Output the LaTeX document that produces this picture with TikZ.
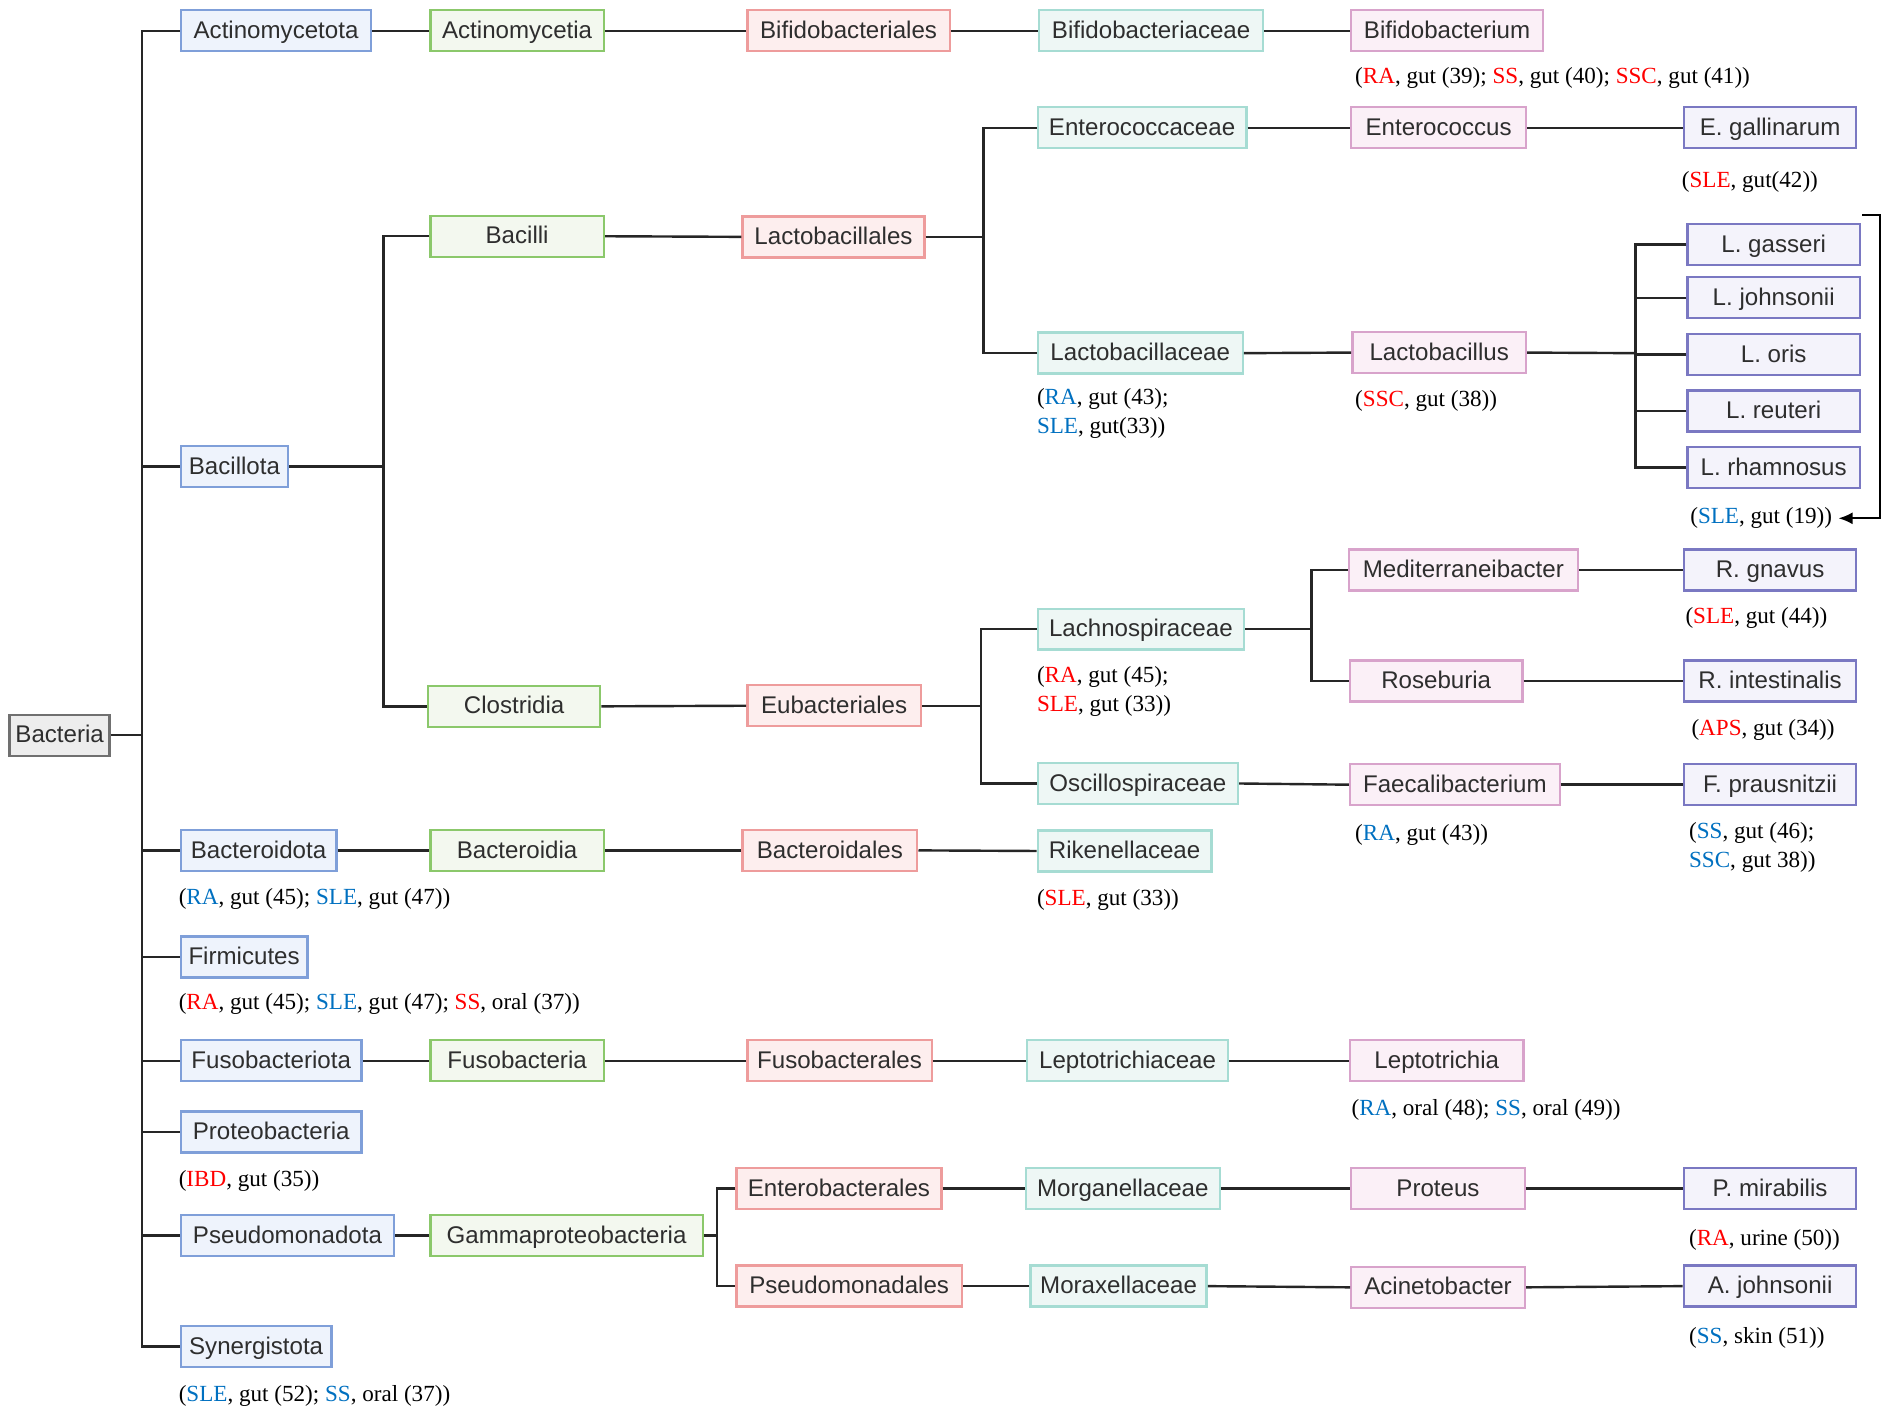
\documentclass[tikz,border=0pt]{standalone}
\usepackage{fontspec}
\setmainfont{Liberation Serif}
\setsansfont{Liberation Sans}
\usetikzlibrary{arrows.meta}
\definecolor{phyD}{HTML}{7F9FD9}\definecolor{phyF}{HTML}{EEF3FC}
\definecolor{claD}{HTML}{8BC86B}\definecolor{claF}{HTML}{F3F8EF}
\definecolor{ordD}{HTML}{EE9C9C}\definecolor{ordF}{HTML}{FDEEEE}
\definecolor{famD}{HTML}{A6DCD3}\definecolor{famF}{HTML}{EEF7F5}
\definecolor{genD}{HTML}{D8A3CB}\definecolor{genF}{HTML}{FBF0F7}
\definecolor{spD}{HTML}{7A78C2}\definecolor{spF}{HTML}{F4F3FB}
\definecolor{bacD}{HTML}{707070}\definecolor{bacF}{HTML}{EDEDED}
\definecolor{lblred}{HTML}{FF0000}\definecolor{lblblue}{HTML}{0070C0}
\newcommand{\redt}[1]{\textcolor{lblred}{#1}}
\newcommand{\bluet}[1]{\textcolor{lblblue}{#1}}
\tikzset{
  box/.style={draw, line width=1.2pt, minimum height=20.4pt, inner sep=0pt,
    text height=8.6pt, text depth=1pt,
    font=\sffamily\fontsize{12}{14}\selectfont, text=black!82},
  bw/.style={minimum width=#1*0.6pt},
  phy/.style={box, draw=phyD, fill=phyF},
  cla/.style={box, draw=claD, fill=claF},
  ord/.style={box, draw=ordD, fill=ordF},
  fam/.style={box, draw=famD, fill=famF},
  gen/.style={box, draw=genD, fill=genF},
  spc/.style={box, draw=spD, fill=spF, bw=143},
  root/.style={box, draw=bacD, fill=bacF},
  lbl/.style={anchor=west, inner sep=0pt, align=left,
    font=\rmfamily\fontsize{11.5}{14.4}\selectfont},
  conn/.style={line width=1.2pt, draw=black!85},
}
\begin{document}
\begin{tikzpicture}[x=0.6pt, y=-0.6pt]
\useasboundingbox (0,0) rectangle (1568,1175);
% root
\node[root, bw=83] (bact) at (49.5,610) {Bacteria};
% phyla
\node[phy, bw=158] (act)   at (229,25.5)   {Actinomycetota};
\node[phy, bw=89]  (bacl)  at (194.5,387)  {Bacillota};
\node[phy, bw=129] (bactd) at (214.5,705.5){Bacteroidota};
\node[phy, bw=105] (firm)  at (202.5,794)  {Firmicutes};
\node[phy, bw=150] (fuso)  at (225,880)    {Fusobacteriota};
\node[phy, bw=150] (prot)  at (225,939)    {Proteobacteria};
\node[phy, bw=177] (pseu)  at (238.5,1025) {Pseudomonadota};
\node[phy, bw=125] (syn)   at (212.5,1117) {Synergistota};
% classes
\node[cla, bw=144] (actc)  at (429,25.5)   {Actinomycetia};
\node[cla, bw=144] (bacil) at (429,196)    {Bacilli};
\node[cla, bw=143] (clos)  at (426.5,586)  {Clostridia};
\node[cla, bw=144] (bacti) at (429,705.5)  {Bacteroidia};
\node[cla, bw=144] (fusob) at (429,880)    {Fusobacteria};
\node[cla, bw=226] (gamma) at (470,1025)   {Gammaproteobacteria};
% orders
\node[ord, bw=168] (bifo)  at (704,25.5)   {Bifidobacteriales};
\node[ord, bw=151] (lacto) at (691.5,196.5){Lactobacillales};
\node[ord, bw=144] (eub)   at (692,585.5)  {Eubacteriales};
\node[ord, bw=145] (bacto) at (688.5,705.5){Bacteroidales};
\node[ord, bw=153] (fusoo) at (696.5,880)  {Fusobacterales};
\node[ord, bw=170] (entero)at (696,986)    {Enterobacterales};
\node[ord, bw=187] (pseo)  at (704.5,1067) {Pseudomonadales};
% families
\node[fam, bw=186] (biff)  at (955,25.5)   {Bifidobacteriaceae};
\node[fam, bw=173] (entf)  at (947.5,106)  {Enterococcaceae};
\node[fam, bw=170] (lacf)  at (946,293)    {Lactobacillaceae};
\node[fam, bw=171] (lachf) at (946.5,522)  {Lachnospiraceae};
\node[fam, bw=166] (oscf)  at (944,650)    {Oscillospiraceae};
\node[fam, bw=144] (rikf)  at (933,706)    {Rikenellaceae};
\node[fam, bw=167] (lepf)  at (935.5,880)  {Leptotrichiaceae};
\node[fam, bw=161] (morf)  at (931.5,986)  {Morganellaceae};
\node[fam, bw=146] (moraf) at (928,1067)   {Moraxellaceae};
% genera
\node[gen, bw=159] (bifg)  at (1200.5,25.5){Bifidobacterium};
\node[gen, bw=145] (entg)  at (1193.5,106) {Enterococcus};
\node[gen, bw=144] (lacg)  at (1194,292.5) {Lactobacillus};
\node[gen, bw=190] (medg)  at (1214,473)   {Mediterraneibacter};
\node[gen, bw=143] (rosg)  at (1191.5,565) {Roseburia};
\node[gen, bw=174] (faeg)  at (1207,651)   {Faecalibacterium};
\node[gen, bw=144] (lepg)  at (1192,880)   {Leptotrichia};
\node[gen, bw=144] (prog)  at (1193,986)   {Proteus};
\node[gen, bw=144] (acig)  at (1193,1068)  {Acinetobacter};
% species
\node[spc] (egal) at (1468.5,106)  {E. gallinarum};
\node[spc] (lgas) at (1471.5,203)  {L. gasseri};
\node[spc] (ljoh) at (1471.5,247)  {L. johnsonii};
\node[spc] (lori) at (1471.5,294)  {L. oris};
\node[spc] (lreu) at (1471.5,341)  {L. reuteri};
\node[spc] (lrha) at (1471.5,388)  {L. rhamnosus};
\node[spc] (rgna) at (1468.5,473)  {R. gnavus};
\node[spc] (rint) at (1468.5,565)  {R. intestinalis};
\node[spc] (fpra) at (1468.5,651)  {F. prausnitzii};
\node[spc] (pmir) at (1468.5,986)  {P. mirabilis};
\node[spc] (ajoh) at (1468.5,1067) {A. johnsonii};
% labels
\node[lbl] (l1)  at (1124,65)    {(\redt{RA}, gut (39); \redt{SS}, gut (40); \redt{SSC}, gut (41))};
\node[lbl] (l2)  at (1395,151)   {(\redt{SLE}, gut(42))};
\node[lbl] (l3)  at (860,343)    {(\bluet{RA}, gut (43);\\\bluet{SLE}, gut(33))};
\node[lbl] (l4)  at (1124,333)   {(\redt{SSC}, gut (38))};
\node[lbl] (l5)  at (1402,430)   {(\bluet{SLE}, gut (19))};
\node[lbl] (l6)  at (1398,513)   {(\redt{SLE}, gut (44))};
\node[lbl] (l7)  at (860,573.5)  {(\redt{RA}, gut (45);\\\redt{SLE}, gut (33))};
\node[lbl] (l8)  at (1403,606)   {(\redt{APS}, gut (34))};
\node[lbl] (l9)  at (1124,693)   {(\bluet{RA}, gut (43))};
\node[lbl] (l10) at (1401,703)   {(\bluet{SS}, gut (46);\\\bluet{SSC}, gut 38))};
\node[lbl] (l11) at (148,746)    {(\bluet{RA}, gut (45); \bluet{SLE}, gut (47))};
\node[lbl] (l12) at (860,747)    {(\redt{SLE}, gut (33))};
\node[lbl] (l13) at (148,833)    {(\redt{RA}, gut (45); \bluet{SLE}, gut (47); \redt{SS}, oral (37))};
\node[lbl] (l14) at (1121,921)   {(\bluet{RA}, oral (48); \bluet{SS}, oral (49))};
\node[lbl] (l15) at (148,980)    {(\redt{IBD}, gut (35))};
\node[lbl] (l16) at (1401,1029)  {(\redt{RA}, urine (50))};
\node[lbl] (l17) at (1401,1110)  {(\bluet{SS}, skin (51))};
\node[lbl] (l18) at (148,1158)   {(\bluet{SLE}, gut (52); \bluet{SS}, oral (37))};
% branch points
\coordinate (t0) at (118,610);
\coordinate (bb) at (318,387);
\coordinate (lb1) at (816,196.5);
\coordinate (eb) at (814,585.5);
\coordinate (lcb) at (1088,522);
\coordinate (lsb) at (1357,293);
\coordinate (gb) at (595,1025);
\coordinate (a1) at (1545,178);
\coordinate (a2) at (1560,178);
% connectors: trunk
\draw[conn] (bact.east) -- (t0);
\draw[conn] (act.west) -| (t0) |- (syn.west);
\foreach \n in {bacl,bactd,firm,fuso,prot,pseu}
  \draw[conn] (\n.west) -- (\n.west -| t0);
% Actinomycetota line
\draw[conn] (act.east) -- (actc.west);
\draw[conn] (actc.east) -- (bifo.west);
\draw[conn] (bifo.east) -- (biff.west);
\draw[conn] (biff.east) -- (bifg.west);
% Bacillota
\draw[conn] (bacl.east) -- (bb);
\draw[conn] (bacil.west) -| (bb) |- (clos.west);
\draw[conn] (bacil.east) -- (lacto.west);
\draw[conn] (lacto.east) -- (lb1);
\draw[conn] (entf.west) -| (lb1) |- (lacf.west);
\draw[conn] (entf.east) -- (entg.west);
\draw[conn] (entg.east) -- (egal.west);
\draw[conn] (lacf.east) -- (lacg.west);
\draw[conn] (lacg.east) -- (lsb);
\draw[conn] (lgas.west) -| (lsb) |- (lrha.west);
\draw[conn] (ljoh.west) -- (ljoh.west -| lsb);
\draw[conn] (lori.west) -- (lori.west -| lsb);
\draw[conn] (lreu.west) -- (lreu.west -| lsb);
\draw[conn] (clos.east) -- (eub.west);
\draw[conn] (eub.east) -- (eb);
\draw[conn] (lachf.west) -| (eb) |- (oscf.west);
\draw[conn] (lachf.east) -- (lcb);
\draw[conn] (medg.west) -| (lcb) |- (rosg.west);
\draw[conn] (medg.east) -- (rgna.west);
\draw[conn] (rosg.east) -- (rint.west);
\draw[conn] (oscf.east) -- (faeg.west);
\draw[conn] (faeg.east) -- (fpra.west);
% Bacteroidota
\draw[conn] (bactd.east) -- (bacti.west);
\draw[conn] (bacti.east) -- (bacto.west);
\draw[conn] (bacto.east) -- (rikf.west);
% Fusobacteriota
\draw[conn] (fuso.east) -- (fusob.west);
\draw[conn] (fusob.east) -- (fusoo.west);
\draw[conn] (fusoo.east) -- (lepf.west);
\draw[conn] (lepf.east) -- (lepg.west);
% Pseudomonadota
\draw[conn] (pseu.east) -- (gamma.west);
\draw[conn] (gamma.east) -- (gb);
\draw[conn] (entero.west) -| (gb) |- (pseo.west);
\draw[conn] (entero.east) -- (morf.west);
\draw[conn] (morf.east) -- (prog.west);
\draw[conn] (prog.east) -- (pmir.west);
\draw[conn] (pseo.east) -- (moraf.west);
\draw[conn] (moraf.east) -- (acig.west);
\draw[conn] (acig.east) -- (ajoh.west);
% arrow to Lactobacillus species label
\draw[line width=1pt, -{Latex[length=7pt,width=6pt]}] (a1) -- (a2) |- ([xshift=3pt]l5.east);
\end{tikzpicture}
\end{document}
